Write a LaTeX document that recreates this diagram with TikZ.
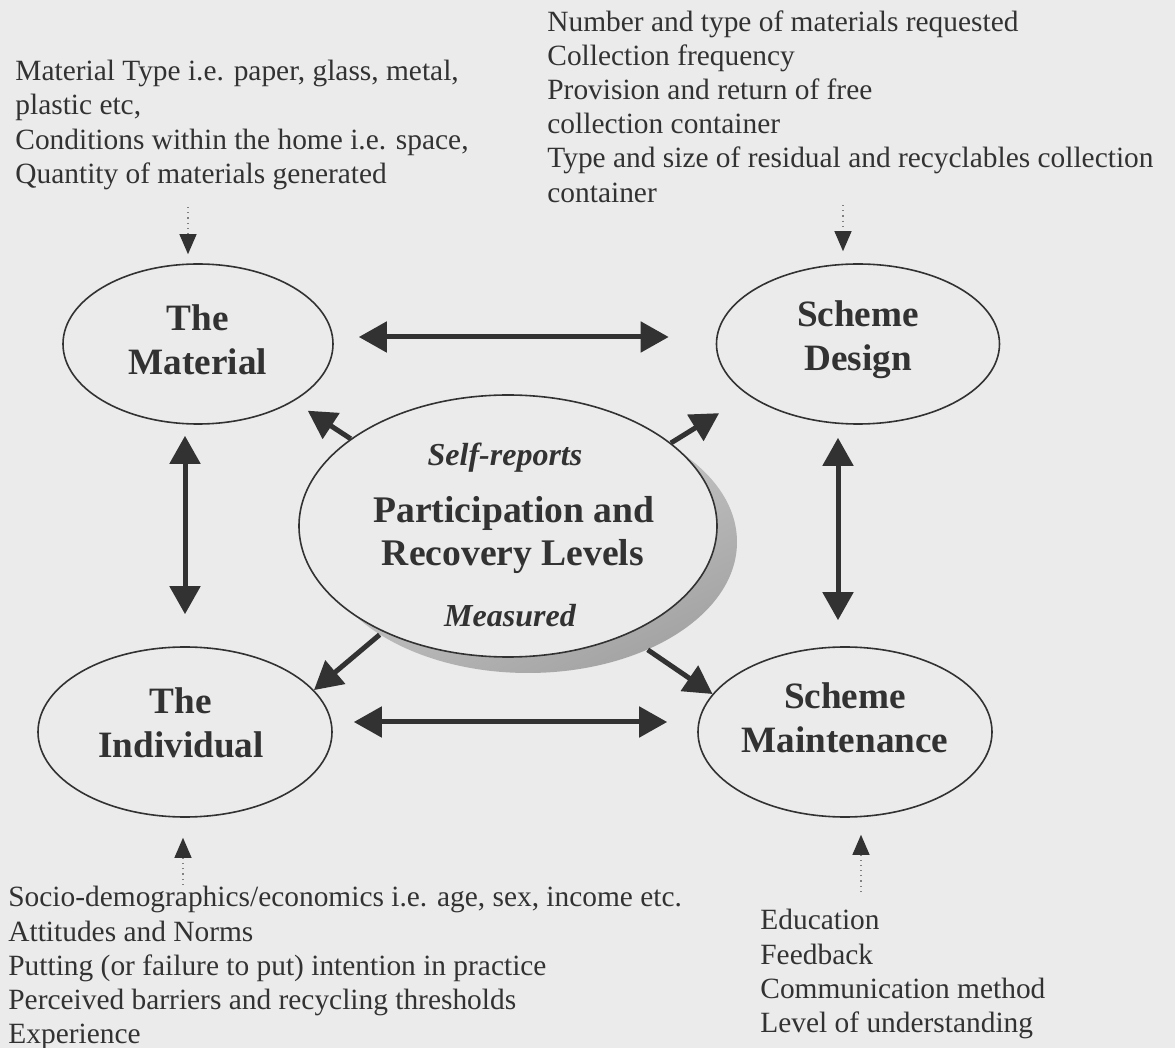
\documentclass[tikz,border=0pt]{standalone}
\usepackage{fontspec}
\setmainfont{Liberation Serif}
\usetikzlibrary{shapes.geometric,arrows.meta}

\definecolor{paper}{RGB}{235,235,235}
\definecolor{ink}{RGB}{50,50,50}

\tikzset{
  blob/.style={ellipse,draw=ink,line width=0.8pt,inner sep=0pt},
  tag/.style={inner sep=0pt,text=ink,align=center,
    font=\fontsize{18.6}{22}\selectfont\bfseries},
  info/.style={anchor=north west,inner sep=0pt,align=left,text=ink,
    font=\fontsize{14.7}{17.1}\selectfont},
  hubtxt/.style={anchor=base,inner sep=0pt,text=ink,
    font=\fontsize{18.8}{22}\selectfont\bfseries},
  link/.style={line width=2.5pt,draw=ink,
    {Triangle[length=14pt,width=15pt]}-{Triangle[length=14pt,width=15pt]}},
  push/.style={link,-{Triangle[length=14pt,width=15pt]}},
  feed/.style={draw=gray,dotted,line width=0.6pt,
    -{Triangle[length=10pt,width=8.5pt,color=ink]}}
}

\begin{document}
\begin{tikzpicture}[x=0.5pt,y=-0.5pt]
  \useasboundingbox (0,0) rectangle (1175,1048);
  \fill[paper] (0,0) rectangle (1175,1048);

  % hub with its shadow
  \node[ellipse,inner sep=0pt,minimum width=209pt,minimum height=131pt,
    top color=gray!30,bottom color=gray!72,shading angle=25] (shd) at (528,542) {};
  \node[blob,fill=paper,minimum width=209pt,minimum height=131pt] (pr) at (508,526) {};
  \node[hubtxt,font=\fontsize{16}{19}\selectfont\bfseries\itshape] (self) at (505,466) {Self-reports};
  \node[hubtxt] (part) at (514,523) {Participation and};
  \node[hubtxt] (rec) at (513,566) {Recovery Levels};
  \node[hubtxt,font=\fontsize{16}{19}\selectfont\bfseries\itshape] (meas) at (510,627) {Measured};

  % the four factors
  \node[blob,minimum width=135pt,minimum height=80pt] (mat) at (198,344) {};
  \node[blob,minimum width=141.5pt,minimum height=80pt] (des) at (858,344) {};
  \node[blob,minimum width=147pt,minimum height=85pt] (ind) at (185,732) {};
  \node[blob,minimum width=147pt,minimum height=85pt] (mnt) at (845,732) {};
  \node[tag] (matlbl) at ([yshift=2pt]mat) {The\\Material};
  \node[tag] (deslbl) at ([yshift=2pt]des) {Scheme\\Design};
  \node[tag] (indlbl) at ([xshift=-2pt,yshift=4.5pt]ind) {The\\Individual};
  \node[tag] (mntlbl) at ([yshift=7pt]mnt) {Scheme\\Maintenance};

  \draw[link,shorten <=12.5pt,shorten >=23.5pt] ([yshift=3.5pt]mat.east) -- ([yshift=3.5pt]des.west);
  \draw[link,shorten <=10.5pt,shorten >=15pt] ([yshift=5pt]ind.east) -- ([yshift=5pt]mnt.west);
  \draw[link,shorten <=5.5pt,shorten >=16pt] (mat.south -| ind.north) -- (ind.north);
  \draw[link,shorten <=6.5pt,shorten >=13pt] ([xshift=-3.5pt]des.south -| mnt.north) -- ([xshift=-3.5pt]mnt.north);

  \draw[push,shorten >=8.5pt] (pr.151) -- (mat.-31);
  \draw[push,shorten >=17pt] (pr.27) -- (des.205);
  \draw[push] (shd.-148) -- (ind.18);
  \draw[push] (shd.-42) -- (mnt.164);

  % notes feeding each factor
  \node[info] (mattxt) at (15,60) {Material Type i.e. paper, glass, metal,\\plastic etc,\\
    Conditions within the home i.e. space,\\Quantity of materials generated};
  \node[info] (destxt) at (547,10) {Number and type of materials requested\\Collection frequency\\
    Provision and return of free\\collection container\\
    Type and size of residual and recyclables collection\\container};
  \node[info] (indtxt) at (8,886) {Socio-demographics/economics i.e. age, sex, income etc.\\
    Attitudes and Norms\\Putting (or failure to put) intention in practice\\
    Perceived barriers and recycling thresholds\\Experience};
  \node[info] (mnttxt) at (760,909) {Education\\Feedback\\Communication method\\Level of understanding};

  \coordinate (matsrc) at (188,207);
  \coordinate (dessrc) at (843,205);
  \coordinate (indsrc) at (183,885);
  \coordinate (mntsrc) at (861,892);
  \draw[feed,shorten >=4.5pt] (matsrc) -- (matsrc |- mat.north);
  \draw[feed,shorten >=6pt] (dessrc) -- (dessrc |- des.north);
  \draw[feed,shorten >=10pt] (indsrc) -- (indsrc |- ind.south);
  \draw[feed,shorten >=8.5pt] (mntsrc) -- (mntsrc |- mnt.south);
\end{tikzpicture}
\end{document}
